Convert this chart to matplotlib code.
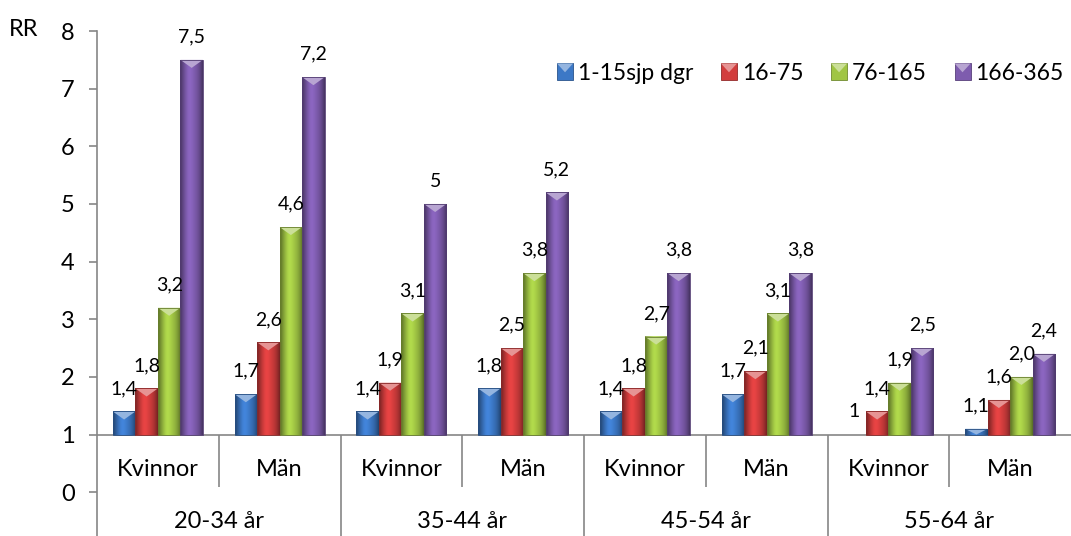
import numpy as np
import matplotlib
matplotlib.use('Agg')
import matplotlib.pyplot as plt
from matplotlib.patches import Rectangle, Polygon
from matplotlib.colors import to_rgb

plt.rcParams['font.family'] = ['Lato', 'DejaVu Sans']

GROUPS = ["20-34 år", "35-44 år", "45-54 år", "55-64 år"]
SEXES = ["Kvinnor", "Män"]
SERIES = ["1-15sjp dgr", "16-75", "76-165", "166-365"]

rr_1_15 = [1.4, 1.7, 1.4, 1.8, 1.4, 1.7, 1.0, 1.1]
rr_16_75 = [1.8, 2.6, 1.9, 2.5, 1.8, 2.1, 1.4, 1.6]
rr_76_165 = [3.2, 4.6, 3.1, 3.8, 2.7, 3.1, 1.9, 2.0]
rr_166_365 = [7.5, 7.2, 5.0, 5.2, 3.8, 3.8, 2.5, 2.4]

lbl_1_15 = ["1,4", "1,7", "1,4", "1,8", "1,4", "1,7", "1", "1,1"]
lbl_16_75 = ["1,8", "2,6", "1,9", "2,5", "1,8", "2,1", "1,4", "1,6"]
lbl_76_165 = ["3,2", "4,6", "3,1", "3,8", "2,7", "3,1", "1,9", "2,0"]
lbl_166_365 = ["7,5", "7,2", "5", "5,2", "3,8", "3,8", "2,5", "2,4"]

values = [rr_1_15, rr_16_75, rr_76_165, rr_166_365]
labels = [lbl_1_15, lbl_16_75, lbl_76_165, lbl_166_365]
colors = ["#3C78C6", "#D23D3D", "#A0C544", "#7E5CAE"]

BASE = 1.0          # category axis crosses the value axis at RR = 1
BAR_W = 0.185
GRAY = "#868686"


def mix(c, other, t):
    c, o = np.array(to_rgb(c)), np.array(to_rgb(other))
    return tuple(c * (1 - t) + o * t)


def gradient(color, n=64):
    # bevelled look: dark edges, light strip left of centre
    t = np.linspace(-1, 1, n)
    shade = 1.0 - 0.45 * np.abs(t) ** 2.2 + 0.12 * np.exp(-((t + 0.2) / 0.35) ** 2)
    rgb = np.array(to_rgb(color))[None, :] * shade[:, None]
    return np.clip(rgb, 0, 1)[None, :, :]


def bevel_bar(ax, x, top, color):
    x0, x1 = x - BAR_W / 2, x + BAR_W / 2
    h = top - BASE
    if h <= 0:
        return
    ax.imshow(gradient(color), extent=[x0, x1, BASE, top], aspect='auto',
              interpolation='bilinear', zorder=3)
    d = min(0.14, h)
    ax.add_patch(Polygon([[x0, top], [x1, top], [x, top - d]], closed=True,
                         facecolor=mix(color, "white", 0.45), edgecolor='none', zorder=4))
    ax.add_patch(Rectangle((x0, BASE), BAR_W, h, facecolor='none',
                           edgecolor=mix(color, "black", 0.35), lw=0.6, zorder=5))


class BevelHandler:
    def legend_artist(self, legend, orig_handle, fontsize, handlebox):
        x0, y0 = handlebox.xdescent, handlebox.ydescent
        w, h = handlebox.width, handlebox.height
        c = orig_handle.get_facecolor()
        tr = handlebox.get_transform()
        sq = Rectangle((x0, y0), w, h, facecolor=c,
                       edgecolor=mix(c[:3], "black", 0.3), lw=0.6, transform=tr)
        tri = Polygon([[x0, y0 + h], [x0 + w, y0 + h], [x0 + w / 2, y0 + h * 0.45]],
                      facecolor=mix(c[:3], "white", 0.45), edgecolor='none', transform=tr)
        handlebox.add_artist(sq)
        handlebox.add_artist(tri)
        return sq


fig = plt.figure(figsize=(10.71, 5.36), dpi=100)
ax = fig.add_axes([97 / 1071, 0, 974 / 1071, 505 / 536])

n_cat = len(GROUPS) * len(SEXES)
centers = np.arange(n_cat) + 0.5
for j, (vals, lbls, col) in enumerate(zip(values, labels, colors)):
    xs = centers + (j - 1.5) * BAR_W
    for x, v, s in zip(xs, vals, lbls):
        bevel_bar(ax, x, v, col)
        ax.annotate(s, (x, v), xytext=(0, 16.5), textcoords='offset points',
                    ha='center', va='center', fontsize=14, color='black', zorder=6)

ax.set_xlim(0, n_cat)
ax.set_ylim(-0.76, 8)

# axes styling
for side in ['top', 'right', 'bottom']:
    ax.spines[side].set_visible(False)
ax.spines['left'].set_color(GRAY)
ax.spines['left'].set_linewidth(1.2)
ax.set_yticks(range(0, 9))
ax.tick_params(axis='y', colors=GRAY, length=6, width=1.2, labelsize=17,
               labelcolor='black', pad=10)
ax.set_xticks([])

ax.axhline(BASE, color=GRAY, lw=1.2, zorder=2)
ax.vlines(np.arange(1, n_cat, 2), 0.09, BASE, color=GRAY, lw=1.2)
ax.vlines(np.arange(2, n_cat, 2), -0.76, BASE, color=GRAY, lw=1.2)

for i, c in enumerate(centers):
    ax.text(c, 0.4, SEXES[i % 2], ha='center', va='center', fontsize=17)
for g, name in enumerate(GROUPS):
    ax.text(2 * g + 1, -0.5, name, ha='center', va='center', fontsize=17)

fig.text(24 / 1071, 1 - 30 / 536, "RR", ha='center', va='center', fontsize=17)

handles = [Rectangle((0, 0), 1, 1, facecolor=c) for c in colors]
fig.legend(handles, SERIES, loc='center left', ncol=4,
           bbox_to_anchor=(557 / 1071, 1 - 73 / 536), frameon=False,
           fontsize=16.5, handlelength=0.7, handleheight=0.7, handletextpad=0.22,
           columnspacing=1.2, borderpad=0, borderaxespad=0,
           handler_map={Rectangle: BevelHandler()})

fig.savefig("out.png", dpi=100)
